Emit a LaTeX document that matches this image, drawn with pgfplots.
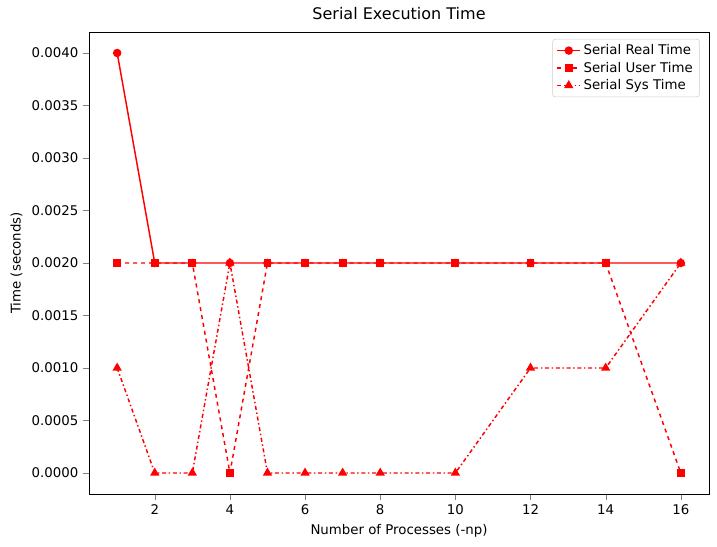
\documentclass[border=0pt]{standalone}
\usepackage{fontspec}
\setmainfont{DejaVu Sans}
\usepackage{pgfplots}
\pgfplotsset{compat=1.18}
\begin{document}
\fontsize{10}{12}\selectfont
\begin{tikzpicture}
\begin{axis}[name=ax, scale only axis, width=465pt, height=346.5pt,
  xmin=0.25, xmax=16.75, ymin=-0.0002, ymax=0.0042,
  xtick={2,4,...,16}, ytick={0,0.0005,...,0.004},
  yticklabel style={/pgf/number format/.cd,fixed,fixed zerofill,precision=4},
  /pgf/number format/assume math mode=true,
  tick align=outside, tick pos=left, major tick length=4.5pt,
  title={Serial Execution Time}, title style={font=\fontsize{12}{14}\selectfont},
  xlabel={Number of Processes (-np)}, ylabel={Time (seconds)},
  scaled y ticks=false,
  legend style={at={(0.985,0.985)}, anchor=north east, draw=black!20, rounded corners=2pt, font=\fontsize{10}{12}\selectfont},
  legend cell align=left]
\addplot[red, line width=1.1pt, solid, mark=*, mark size=2.6pt, mark options={solid, fill=red}] coordinates {(1,0.004)(2,0.002)(3,0.002)(4,0.002)(5,0.002)(6,0.002)(7,0.002)(8,0.002)(10,0.002)(12,0.002)(14,0.002)(16,0.002)};
\addlegendentry{Serial Real Time}
\addplot[red, line width=1.1pt, dashed, mark=square*, mark size=2.4pt, mark options={solid, fill=red}] coordinates {(1,0.002)(2,0.002)(3,0.002)(4,0)(5,0.002)(6,0.002)(7,0.002)(8,0.002)(10,0.002)(12,0.002)(14,0.002)(16,0)};
\addlegendentry{Serial User Time}
\addplot[red, line width=1.1pt, dash dot, mark=triangle*, mark size=3pt, mark options={solid, fill=red}] coordinates {(1,0.001)(2,0)(3,0)(4,0.002)(5,0)(6,0)(7,0)(8,0)(10,0)(12,0.001)(14,0.001)(16,0.002)};
\addlegendentry{Serial Sys Time}
\end{axis}
\pgfresetboundingbox
\path[use as bounding box] ([xshift=-66.75pt,yshift=-39.75pt]ax.south west) rectangle ([xshift=6pt,yshift=24pt]ax.north east);
\end{tikzpicture}
\end{document}
